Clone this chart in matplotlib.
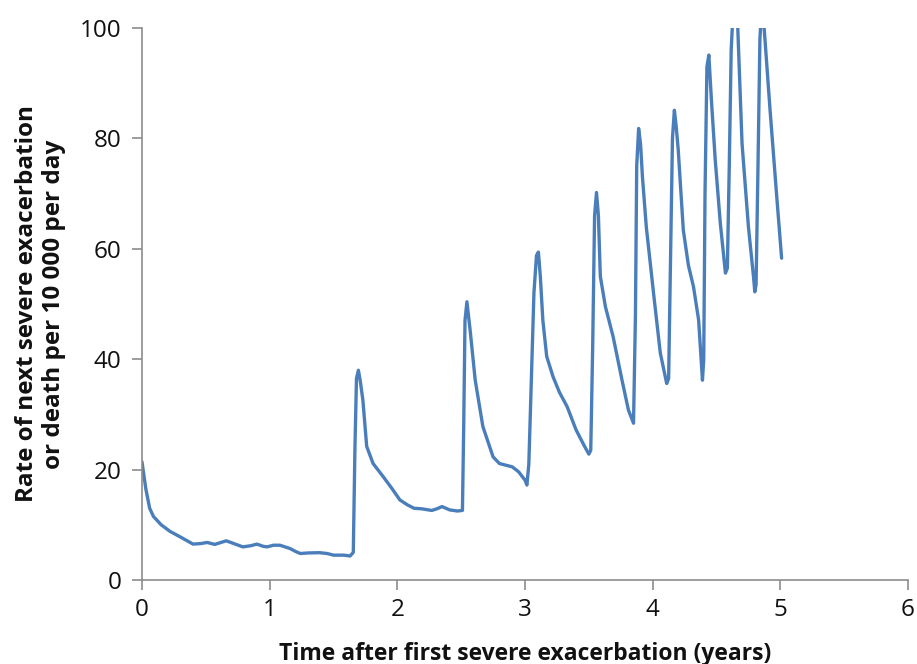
import matplotlib
matplotlib.use("Agg")
import matplotlib.pyplot as plt

plt.rcParams['font.family'] = ['Open Sans', 'DejaVu Sans']

# Time (years) and rate values
time_years = [0.00, 0.03, 0.06, 0.09, 0.15, 0.22, 0.30, 0.40, 0.46, 0.51, 0.57, 0.62,
              0.66, 0.72, 0.79, 0.85, 0.90, 0.95, 0.98, 1.03, 1.08, 1.12, 1.16, 1.20,
              1.24, 1.30, 1.39, 1.45, 1.50, 1.58, 1.63, 1.655, 1.668, 1.68, 1.695, 1.71,
              1.73, 1.76, 1.81, 1.89, 1.96, 2.02, 2.08, 2.13, 2.19, 2.27, 2.31, 2.35,
              2.41, 2.47, 2.51, 2.52, 2.53, 2.545, 2.57, 2.61, 2.67, 2.75, 2.80, 2.85,
              2.90, 2.95, 3.00, 3.015, 3.03, 3.05, 3.07, 3.09, 3.105, 3.12, 3.14, 3.17,
              3.22, 3.27, 3.33, 3.40, 3.46, 3.50, 3.515, 3.53, 3.545, 3.56, 3.575, 3.59,
              3.63, 3.69, 3.76, 3.81, 3.85, 3.865, 3.875, 3.89, 3.905, 3.92, 3.95, 4.01,
              4.06, 4.11, 4.125, 4.14, 4.155, 4.17, 4.185, 4.20, 4.24, 4.28, 4.32, 4.36,
              4.39, 4.40, 4.41, 4.425, 4.44, 4.46, 4.49, 4.53, 4.57, 4.585, 4.60, 4.615,
              4.63, 4.65, 4.665, 4.70, 4.75, 4.79, 4.80, 4.81, 4.825, 4.84, 4.855, 4.87,
              4.92, 4.97, 5.01]
rate = [21.4, 16.5, 13.0, 11.5, 10.0, 8.8, 7.8, 6.5, 6.6, 6.8, 6.45, 6.8,
        7.1, 6.6, 6.0, 6.2, 6.5, 6.1, 6.0, 6.3, 6.3, 6.0, 5.7, 5.2,
        4.8, 4.9, 4.95, 4.8, 4.5, 4.5, 4.35, 5.0, 24.0, 36.5, 38.0, 36.0,
        32.6, 24.2, 21.1, 18.7, 16.5, 14.5, 13.6, 13.0, 12.9, 12.6, 12.9, 13.3,
        12.7, 12.5, 12.6, 28.0, 47.0, 50.4, 45.3, 36.2, 27.8, 22.3, 21.1, 20.8,
        20.5, 19.6, 18.1, 17.2, 21.0, 36.2, 52.0, 58.8, 59.4, 55.0, 47.0, 40.5,
        36.8, 34.0, 31.4, 27.2, 24.5, 22.8, 23.5, 42.0, 66.0, 70.2, 66.0, 55.0,
        49.5, 44.1, 36.2, 30.8, 28.4, 48.0, 75.0, 81.8, 79.0, 73.0, 64.0, 51.3,
        41.1, 35.6, 36.5, 58.0, 80.0, 85.1, 82.0, 78.0, 63.4, 57.0, 53.1, 47.1,
        36.2, 40.0, 70.0, 93.0, 95.1, 87.0, 76.1, 64.6, 55.6, 56.5, 75.0, 96.0,
        103.0, 104.0, 101.0, 79.1, 64.0, 54.9, 52.2, 53.5, 75.0, 98.0, 104.0, 101.0,
        85.0, 70.0, 58.3]

x_ticks = [0, 1, 2, 3, 4, 5, 6]
y_ticks = [0, 20, 40, 60, 80, 100]

fig = plt.figure(figsize=(9.17, 6.64), dpi=100)
ax = fig.add_axes([142/917, 1 - 580/664, (908 - 142)/917, (580 - 28)/664])

ax.plot(time_years, rate, color='#4A7EBB', linewidth=2.4, solid_joinstyle='round',
        solid_capstyle='round', clip_on=True)

ax.set_xlim(0, 6)
ax.set_ylim(0, 100)
ax.set_xticks(x_ticks)
ax.set_yticks(y_ticks)
ax.set_xticklabels([str(t) for t in x_ticks])
ax.set_yticklabels([str(t) for t in y_ticks])

for s in ['top', 'right']:
    ax.spines[s].set_visible(False)
for s in ['left', 'bottom']:
    ax.spines[s].set_color('#8c8c8c')
    ax.spines[s].set_linewidth(1.2)

ax.tick_params(axis='both', direction='out', length=7, width=1.2, color='#8c8c8c',
               labelsize=17.5, labelcolor='#111111')
ax.tick_params(axis='x', pad=6)
ax.tick_params(axis='y', pad=8)

ax.set_xlabel('Time after first severe exacerbation (years)', fontsize=16.5,
              fontweight='bold', labelpad=14, color='#111111')
ax.set_ylabel('Rate of next severe exacerbation\nor death per 10 000 per day',
              fontsize=17.5, fontweight='bold', labelpad=10, color='#111111',
              linespacing=1.15)

fig.savefig('out.png', dpi=100)
